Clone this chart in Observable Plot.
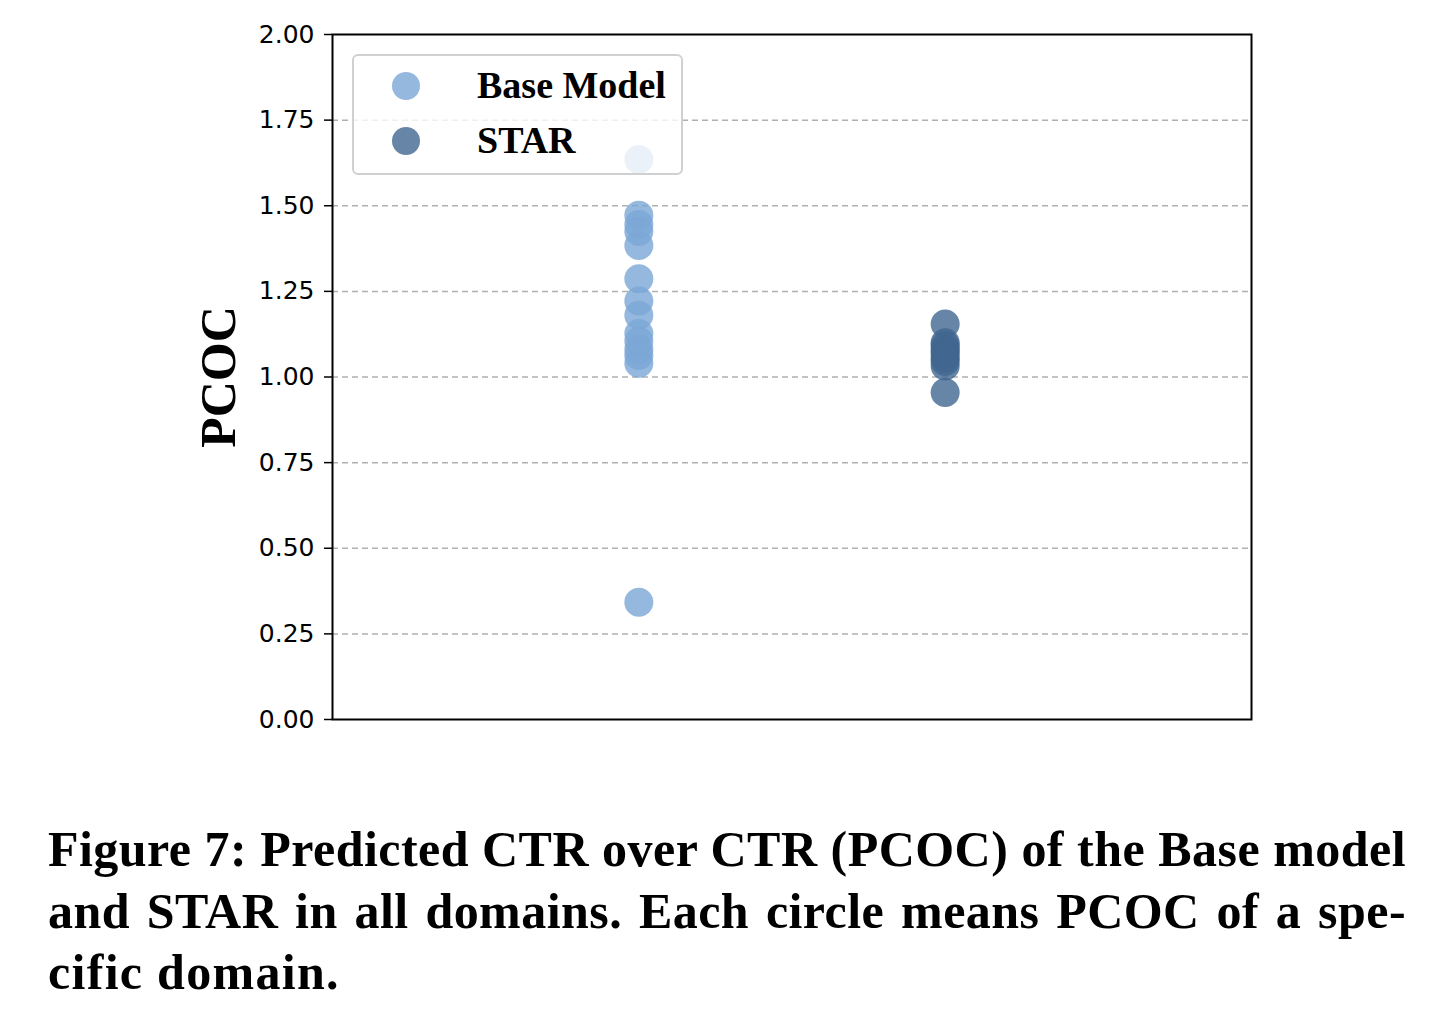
<!DOCTYPE html>
<html>
<head>
<meta charset="utf-8">
<script src="https://cdn.jsdelivr.net/npm/d3@7"></script>
<script src="https://cdn.jsdelivr.net/npm/@observablehq/plot@0.6"></script>
<style>
  html, body { margin: 0; padding: 0; background: #fff; }
  #wrap { position: relative; width: 1455px; height: 1021px; }
  #legend {
    position: absolute; left: 352px; top: 54px; width: 331px; height: 121px;
    background: rgba(255,255,255,0.8); border: 2px solid #d0d0d0; border-radius: 6px;
    box-sizing: border-box;
  }
  .lg-row { position: absolute; left: 0; height: 40px; display: flex; align-items: center; }
  .lg-dot { position: absolute; left: 38px; width: 28px; height: 28px; border-radius: 50%; }
  .lg-txt { position: absolute; left: 123px; top: -3px; font-family: "Liberation Serif", serif; font-weight: bold; font-size: 38px; white-space: nowrap; color: #000; }
  #ylab {
    position: absolute; left: 218px; top: 377px; transform: translate(-50%, -50%) rotate(-90deg);
    font-family: "Liberation Serif", serif; font-weight: bold; font-size: 50px; white-space: nowrap;
  }
  #caption {
    position: absolute; left: 48px; top: 819px; width: 1358px;
    font-family: "Liberation Serif", serif; font-weight: bold; font-size: 50px; letter-spacing: 0.45px; line-height: 61.5px; color: #000;
  }
  #caption div { text-align: justify; text-align-last: justify; white-space: nowrap; }
  #caption div.last { text-align-last: left; letter-spacing: 1.3px; }
</style>
</head>
<body>
<div id="wrap">
  <div id="chart"></div>
  <div id="legend"></div>
  <div id="ylab">PCOC</div>
  <div id="caption"></div>
</div>
<script>
const seriesNames = ["Base Model", "STAR"];
const seriesX = [1, 2];
const seriesColors = ["#7aa6d6", "#416790"];
const baseValues = [1.635, 1.472, 1.445, 1.425, 1.384, 1.287, 1.222, 1.180, 1.127, 1.105, 1.080, 1.063, 1.040, 0.342];
const starValues = [1.155, 1.100, 1.092, 1.082, 1.075, 1.065, 1.055, 1.045, 1.032, 0.955];
const yTicks = [0, 0.25, 0.5, 0.75, 1.0, 1.25, 1.5, 1.75, 2.0];
const gridLines = [0.25, 0.5, 0.75, 1.0, 1.25, 1.5, 1.75];
const captionLines = [
  "Figure 7: Predicted CTR over CTR (PCOC) of the Base model",
  "and STAR in all domains. Each circle means PCOC of a spe-",
  "cific domain."
];

const points = [
  ...baseValues.map(v => ({series: seriesNames[0], x: seriesX[0], y: v})),
  ...starValues.map(v => ({series: seriesNames[1], x: seriesX[1], y: v}))
];

const chart = Plot.plot({
  width: 1455,
  height: 760,
  marginLeft: 332,
  marginRight: 204,
  marginTop: 34,
  marginBottom: 41,
  x: {domain: [0, 3], axis: null},
  y: {domain: [0, 2]},
  color: {domain: seriesNames, range: seriesColors},
  style: {fontFamily: "DejaVu Sans", background: "#fff"},
  marks: [
    Plot.ruleY(gridLines, {stroke: "#b0b0b0", strokeWidth: 1.5, strokeDasharray: "6,4"}),
    Plot.dot(points, {x: "x", y: "y", fill: "series", r: 14.5, fillOpacity: 0.8, stroke: "none"}),
    Plot.frame({stroke: "#000", strokeWidth: 2}),
    Plot.axisY({ticks: yTicks, tickFormat: d3.format(".2f"), tickSize: 8, tickPadding: 10, fontSize: 25, label: null, stroke: "#000", strokeWidth: 1.5, color: "#000"})
  ]
});
document.getElementById("chart").appendChild(chart);

const legend = document.getElementById("legend");
seriesNames.forEach((name, i) => {
  const row = document.createElement("div");
  row.className = "lg-row";
  row.style.top = (10 + i * 55) + "px";
  row.style.width = "100%";
  const dot = document.createElement("div");
  dot.className = "lg-dot";
  dot.style.background = seriesColors[i];
  dot.style.opacity = 0.8;
  const txt = document.createElement("div");
  txt.className = "lg-txt";
  txt.textContent = name;
  row.appendChild(dot);
  row.appendChild(txt);
  legend.appendChild(row);
});

const cap = document.getElementById("caption");
captionLines.forEach((line, i) => {
  const d = document.createElement("div");
  d.textContent = line;
  if (i === captionLines.length - 1) d.className = "last";
  cap.appendChild(d);
});
</script>
</body>
</html>
